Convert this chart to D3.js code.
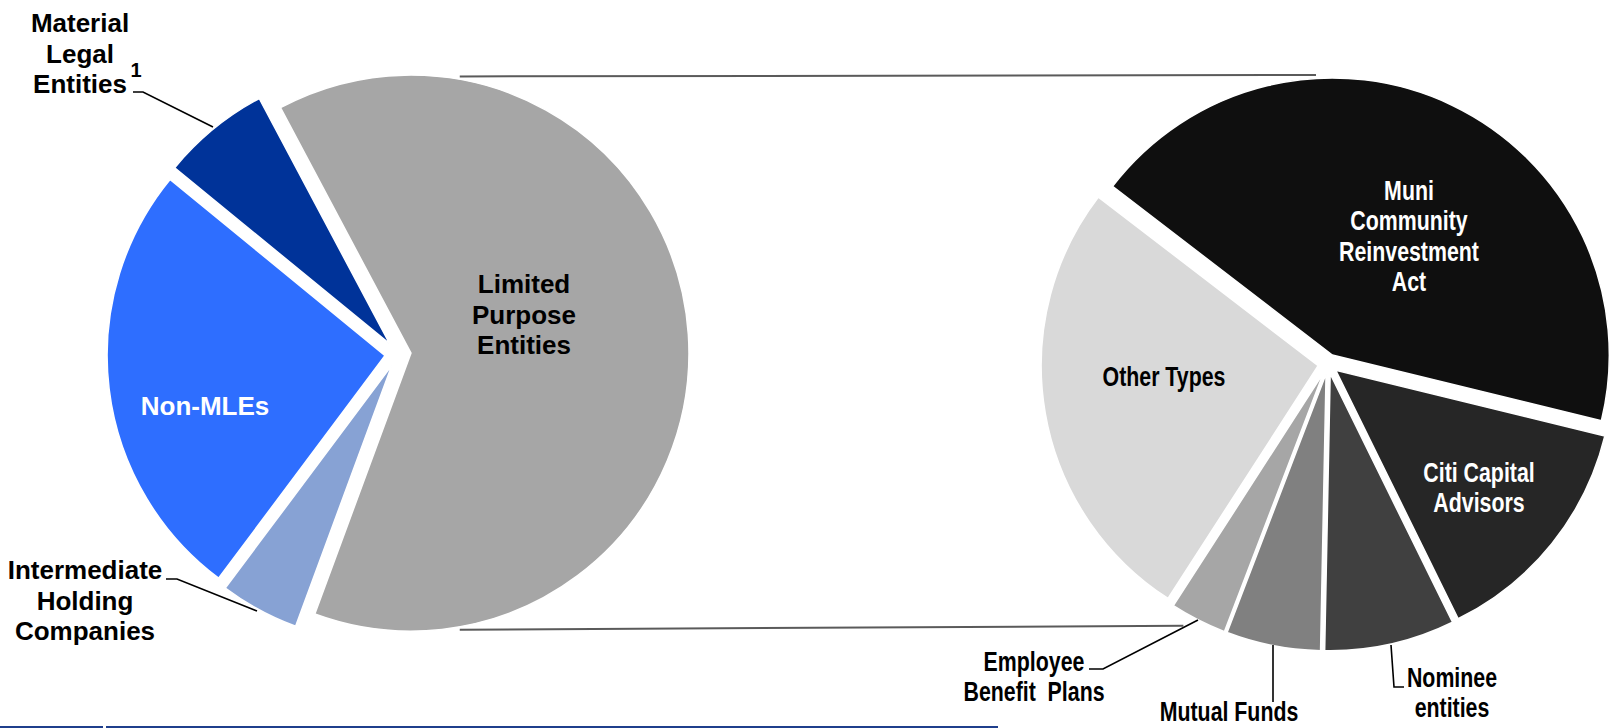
<!DOCTYPE html>
<html>
<head>
<meta charset="utf-8">
<script src="https://cdn.jsdelivr.net/npm/d3@7"></script>
<style>
	html, body { margin: 0; padding: 0; background: #fff; }
	svg { display: block; }
	text { font-family: "Liberation Sans", Arial, sans-serif; font-weight: bold; }
</style>
</head>
<body>
<div id="chart"></div>
<script>

// main pie: legal entity types
const mainCategories = ["Limited Purpose Entities", "Intermediate Holding Companies", "Non-MLEs", "Material Legal Entities"];
const mainValues = [63.4, 4.6, 25.7, 6.3];
const mainColors = ["#a6a6a6", "#87a2d4", "#2e6eff", "#003399"];

// secondary pie: breakdown of limited purpose entities
const subCategories = ["Muni Community Reinvestment Act", "Citi Capital Advisors", "Nominee entities", "Mutual Funds", "Employee Benefit Plans", "Other Types"];
const subValues = [43.4, 13.9, 7.6, 5.5, 3.3, 26.3];
const subColors = ["#0f0f0f", "#262626", "#404040", "#808080", "#a6a6a6", "#d9d9d9"];

const width = 1619;
const height = 728;
const deg = Math.PI / 180;

const mainPie = { cx: 398, cy: 354, r: 278, explode: 13, start: -28 * deg };
const subPie = { cx: 1328, cy: 364, r: 277, explode: 10, start: -52.5 * deg };

const svg = d3.select("#chart").append("svg")
	.attr("width", width)
	.attr("height", height);

function drawPie(cfg, values, colors, cls) {
	const pie = d3.pie()
		.sort(null)
		.startAngle(cfg.start)
		.endAngle(cfg.start + 2 * Math.PI)
		.value((d) => d);

	const arc = d3.arc().innerRadius(0).outerRadius(cfg.r);
	const arcs = pie(values);

	const g = svg.append("g")
		.attr("class", cls)
		.attr("transform", `translate(${cfg.cx},${cfg.cy})`);

	g.selectAll("path")
		.data(arcs).enter()
		.append("path")
			.attr("transform", (d) => {
				const mid = (d.startAngle + d.endAngle) / 2;
				return `translate(${cfg.explode * Math.sin(mid)},${-cfg.explode * Math.cos(mid)})`;
			})
			.attr("d", arc)
			.style("fill", (d, i) => colors[i])
			.style("stroke", "#fff")
			.style("stroke-width", 1.5);

	return arcs;
}

const mainArcs = drawPie(mainPie, mainValues, mainColors, "main-pie");
const subArcs = drawPie(subPie, subValues, subColors, "sub-pie");

// connector lines between the LPE slice and the secondary pie
function polar(cfg, arcD, angle, rad) {
	const mid = (arcD.startAngle + arcD.endAngle) / 2;
	const ox = cfg.cx + cfg.explode * Math.sin(mid);
	const oy = cfg.cy - cfg.explode * Math.cos(mid);
	return [ox + rad * Math.sin(angle), oy - rad * Math.cos(angle)];
}

const lpe = mainArcs[0];
const connectors = [
	[polar(mainPie, lpe, 10 * deg, mainPie.r + 3), [subPie.cx - 12, subPie.cy - 289]],
	[polar(mainPie, lpe, 170 * deg, mainPie.r + 3), polar(subPie, subArcs[4], 209 * deg, subPie.r + 12)]
];

svg.append("g").selectAll("line")
	.data(connectors).enter()
	.append("line")
		.attr("x1", (d) => d[0][0]).attr("y1", (d) => d[0][1])
		.attr("x2", (d) => d[1][0]).attr("y2", (d) => d[1][1])
		.style("stroke", "#5a5a5a")
		.style("stroke-width", 2);

// labels
const labels = [
	{ lines: ["Material", "Legal", "Entities"], x: 80, y: 32, color: "#000", size: 26 },
	{ lines: ["Limited", "Purpose", "Entities"], x: 524, y: 293, color: "#000", size: 26 },
	{ lines: ["Non-MLEs"], x: 205, y: 415, color: "#fff", size: 26 },
	{ lines: ["Intermediate", "Holding", "Companies"], x: 85, y: 579, color: "#000", size: 26 },
	{ lines: ["Muni", "Community", "Reinvestment", "Act"], x: 1409, y: 200, color: "#fff", size: 27, narrow: true },
	{ lines: ["Other Types"], x: 1164, y: 386, color: "#000", size: 27, narrow: true },
	{ lines: ["Citi Capital", "Advisors"], x: 1479, y: 482, color: "#fff", size: 27, narrow: true },
	{ lines: ["Employee", "Benefit  Plans"], x: 1034, y: 671, color: "#000", size: 27, narrow: true },
	{ lines: ["Mutual Funds"], x: 1229, y: 721, color: "#000", size: 27, narrow: true },
	{ lines: ["Nominee", "entities"], x: 1452, y: 687, color: "#000", size: 27, narrow: true }
];

const lineGap = 30.5;

const labelG = svg.append("g").attr("class", "labels");
labels.forEach((l) => {
	const t = labelG.append("text")
		.attr("transform", `translate(${l.x},${l.y}) scale(${l.narrow ? 0.79 : 1},1)`)
		.attr("text-anchor", "middle")
		.style("font-size", l.size + "px")
		.style("fill", l.color)
		.style("white-space", "pre");
	l.lines.forEach((s, i) => {
		t.append("tspan")
			.attr("x", 0)
			.attr("y", i * lineGap)
			.text(s);
	});
});

// footnote marker
labelG.append("text")
	.attr("x", 136).attr("y", 77)
	.attr("text-anchor", "middle")
	.style("font-size", "20px")
	.text("1");

// leader lines
const leaders = [
	[[133, 92], [143, 92], [213, 127]],
	[[166, 579], [177, 579], [257, 611]],
	[[1089, 669], [1103, 669], [1198, 620]],
	[[1273, 645], [1273, 702]],
	[[1391, 645], [1394, 687], [1404, 687]]
];

svg.append("g").selectAll("path")
	.data(leaders).enter()
	.append("path")
		.attr("d", d3.line())
		.style("fill", "none")
		.style("stroke", "#000")
		.style("stroke-width", 1.6);

// bottom rule
svg.append("g").selectAll("line")
	.data([[0, 103], [106, 998]]).enter()
	.append("line")
		.attr("x1", (d) => d[0]).attr("x2", (d) => d[1])
		.attr("y1", 727).attr("y2", 727)
		.style("stroke", "#1f3f8c")
		.style("stroke-width", 2);

</script>
</body>
</html>
